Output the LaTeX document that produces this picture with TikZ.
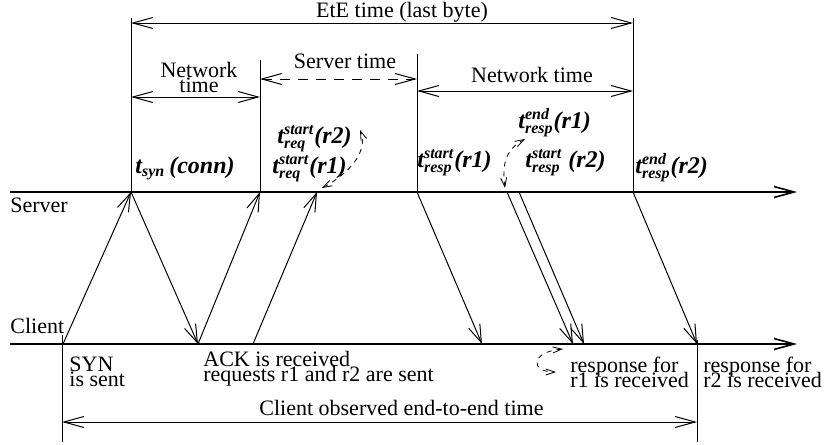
\documentclass[tikz,border=0pt]{standalone}
\usepackage{amsmath}
\usepackage{fontspec}
\setmainfont{Liberation Serif}
\usetikzlibrary{arrows.meta}

\tikzset{
  msg/.style={-{Straight Barb[length=9pt,width=6pt]},line width=0.5pt},
  interval/.style={{Straight Barb[length=10pt,width=5.5pt]}-{Straight Barb[length=10pt,width=5.5pt]},line width=0.5pt},
  axis/.style={-{Straight Barb[length=10pt,width=5.5pt]},line width=0.8pt},
  vbar/.style={line width=0.5pt},
  dashcurve/.style={{Straight Barb[length=4.5pt,width=3pt]}-{Straight Barb[length=4.5pt,width=3pt]},line width=0.4pt,dash pattern=on 2.5pt off 2.5pt},
  lbl/.style={font=\fontsize{11}{12}\selectfont,inner sep=0pt},
  tlbl/.style={font=\fontsize{12}{13}\selectfont\bfseries\itshape,inner sep=0pt,anchor=base west},
}

\begin{document}
\begin{tikzpicture}[x=0.5pt,y=-0.5pt]
  \useasboundingbox (0,0) rectangle (827,445);

  % time lines of the two hosts
  \coordinate (srvL) at (10,192);  \coordinate (srvR) at (797,192);
  \coordinate (cliL) at (10,344);  \coordinate (cliR) at (797,344);
  \draw[axis] (srvL) -- (srvR);
  \draw[axis] (cliL) -- (cliR);
  \node[lbl,anchor=base west] (srvTxt) at (10,212) {Server};
  \node[lbl,anchor=base west] (cliTxt) at (10,333) {Client};

  % events on the server and the client
  \coordinate (cSyn)  at (63,344);   \coordinate (sSyn)  at (131,192);
  \coordinate (cAck)  at (198,344);  \coordinate (sAck)  at (260,192);
  \coordinate (cReq)  at (253,344);  \coordinate (sReq)  at (317,192);
  \coordinate (sRsp1) at (417,192);  \coordinate (cRsp1) at (482,344);
  \coordinate (sEndA) at (507,192);  \coordinate (cEndA) at (573,344);
  \coordinate (sEndB) at (519,192);  \coordinate (cEndB) at (584,344);
  \coordinate (sEnd2) at (633,192);  \coordinate (cEnd2) at (697,344);

  % packets
  \draw[msg] (cSyn) -- (sSyn);
  \draw[msg] (sSyn) -- (cAck);
  \draw[msg] (cAck) -- (sAck);
  \draw[msg] (cReq) -- (sReq);
  \draw[msg] (sRsp1) -- (cRsp1);
  \draw[msg] (sEndA) -- (cEndA);
  \draw[msg] (sEndB) -- (cEndB);
  \draw[msg] (sEnd2) -- (cEnd2);

  % marks above the server line
  \coordinate (barA) at (131,18);
  \coordinate (barB) at (260,60);
  \coordinate (barC) at (417,54);
  \coordinate (barD) at (633,18);
  \draw[vbar] (barA) -- (sSyn);
  \draw[vbar] (barB) -- (sAck);
  \draw[vbar] (barC) -- (sRsp1);
  \draw[vbar] (barD) -- (sEnd2);

  % marks below the client line
  \coordinate (barE) at (62,335);  \coordinate (barEb) at (62,442);
  \coordinate (barF) at (697,340); \coordinate (barFb) at (697,442);
  \draw[vbar] (barE) -- (barEb);
  \draw[vbar] (barF) -- (barFb);

  % intervals
  \coordinate (eteL) at (131,23);  \coordinate (eteR) at (633,23);
  \coordinate (nw1L) at (131,97);  \coordinate (nw1R) at (260,97);
  \coordinate (svL)  at (260,79);  \coordinate (svR)  at (417,79);
  \coordinate (nw2L) at (417,91);  \coordinate (nw2R) at (633,91);
  \coordinate (cliEL) at (62,422); \coordinate (cliER) at (697,422);
  \draw[interval] (eteL) -- (eteR);
  \draw[interval] (nw1L) -- (nw1R);
  \draw[interval,dash pattern=on 5pt off 4pt] (svL) -- (svR);
  \draw[interval] (nw2L) -- (nw2R);
  \draw[interval] (cliEL) -- (cliER);

  \node[lbl,anchor=base] (eteTxt) at (402,17) {EtE time (last byte)};
  \node[lbl,anchor=north,align=center] (nw1Txt) at (199,62) {Network\\[-4.5pt]time};
  \node[lbl,anchor=base] (svTxt) at (345,68) {Server time};
  \node[lbl,anchor=base] (nw2Txt) at (532,82) {Network time};
  \node[lbl,anchor=base west] (cliETxt) at (259,415) {Client observed end-to-end time};

  % time stamps
  \node[tlbl] (tSyn)  at (135,173) {t$_{\text{syn}}$\,(conn)};
  \node[tlbl] (tReq2) at (277,143) {t$^{\text{start}}_{\text{req}}$(r2)};
  \node[tlbl] (tReq1) at (272,173) {t$^{\text{start}}_{\text{req}}$(r1)};
  \node[tlbl] (tRsp1) at (417,167) {t$^{\text{start}}_{\text{resp}}$(r1)};
  \node[tlbl] (tEnd1) at (518,128) {t$^{\text{end}}_{\text{resp}}$(r1)};
  \node[tlbl] (tRsp2) at (525,167) {t$^{\text{start}}_{\text{resp}}$ (r2)};
  \node[tlbl] (tEnd2) at (635,173) {t$^{\text{end}}_{\text{resp}}$(r2)};

  % same instant
  \coordinate (reqLo) at (322,188); \coordinate (reqHi) at (360,130);
  \coordinate (rspLo) at (505,188); \coordinate (rspHi) at (525,139);
  \coordinate (rcvHi) at (563,349); \coordinate (rcvLo) at (556,372);
  \draw[dashcurve] (reqLo) .. controls (352,172) and (368,150) .. (reqHi);
  \draw[dashcurve] (rspLo) .. controls (502,165) and (505,150) .. (rspHi);
  \draw[dashcurve] (rcvHi) .. controls (530,352) and (530,372) .. (rcvLo);

  % what the client sees
  \node[lbl,anchor=north west,align=left] (synTxt) at (69,357) {SYN\\[-4.5pt]is sent};
  \node[lbl,anchor=north west,align=left] (ackTxt) at (203,351) {ACK is received\\[-4.5pt]requests r1 and r2 are sent};
  \node[lbl,anchor=north west,align=left] (r1Txt) at (570,357) {response for\\[-4.5pt]r1 is received};
  \node[lbl,anchor=north west,align=left] (r2Txt) at (703,357) {response for\\[-4.5pt]r2 is received};
\end{tikzpicture}
\end{document}
